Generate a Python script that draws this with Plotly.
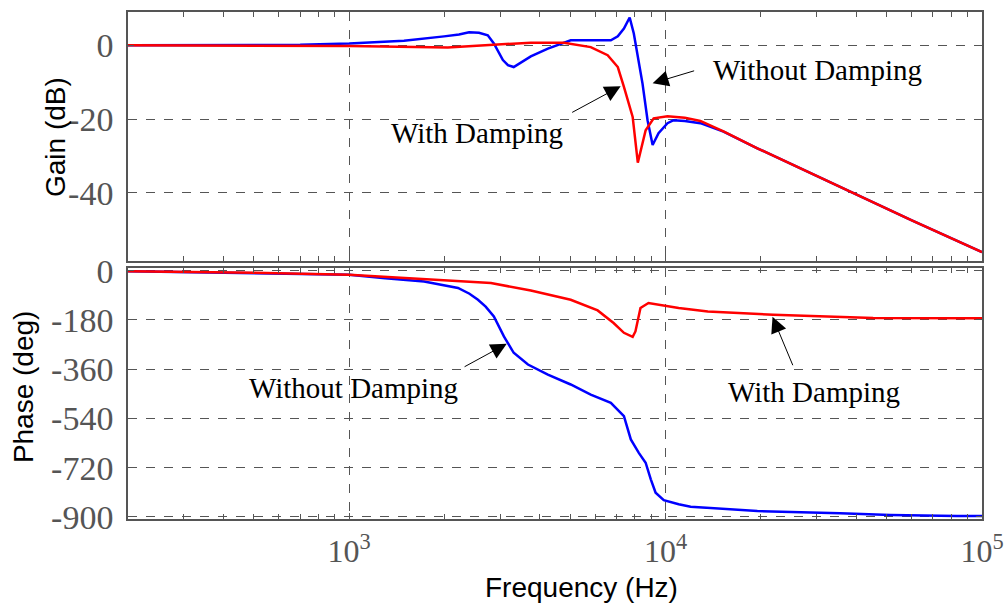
import numpy as np
import plotly.graph_objects as go

# gain (dB)
FREQ_GAIN_ND = [200, 400, 700, 1000, 1490, 1995, 2224, 2393, 2572, 2742, 2866, 3061, 3175, 3311,
                3750, 4246, 5013, 6714, 7063, 7385, 7700, 7935, 8455, 8770, 9100, 9500, 10140,
                10600, 11500, 12880, 14000, 15240, 19500, 28060, 39200, 60000, 100000]
GAIN_ND = [0, 0, 0.1, 0.45, 1.2, 2.4, 2.9, 3.5, 3.4, 2.7, 0.5, -4.0, -5.4, -5.9,
           -3.0, -0.9, 1.35, 1.35, 2.4, 4.5, 7.5, 3.2, -10.4, -20.3, -27.0, -23.8, -21.1,
           -20.3, -20.5, -21.1, -22.2, -23.4, -27.9, -34.2, -40.0, -47.4, -56.0]

FREQ_GAIN_D = [200, 500, 1000, 2050, 2866, 3750, 4770, 5800, 6560, 7063, 7385, 7870, 8170,
               8650, 9170, 10140, 11500, 12880, 14000, 15240, 19500, 28060, 39200, 60000, 100000]
GAIN_D = [0, -0.05, -0.2, -0.6, 0.2, 0.7, 0.7, -0.5, -2.7, -5.9, -11.3, -19.4, -31.8,
          -23.0, -19.8, -19.2, -19.6, -20.5, -21.9, -23.3, -27.9, -34.2, -40.0, -47.4, -56.0]

# phase (deg)
FREQ_PH_ND = [200, 500, 1000, 1300, 1725, 2208, 2400, 2553, 2700, 2866, 3083, 3311, 3673, 4246,
              5013, 5800, 6714, 7385, 7765, 8230, 8650, 8980, 9300, 9870, 11000, 12000, 19500,
              35600, 51300, 83400, 100000]
PH_ND = [-2, -8, -15, -27, -39, -63, -84, -106, -131, -167, -240, -300, -343, -380,
         -416, -453, -483, -532, -617, -666, -702, -763, -812, -839, -854, -863, -879,
         -887, -893, -897, -897]

FREQ_PH_D = [200, 500, 1000, 1725, 2805, 3750, 5013, 6100, 6850, 7385, 7870, 8030, 8330,
             8830, 9870, 11000, 13600, 21900, 45300, 100000]
PH_D = [-2, -7, -15, -30, -45, -72, -106, -145, -191, -227, -242, -222, -136,
        -118, -128, -136, -149, -161, -173, -174]

GAIN_TICKS = [0, -20, -40]
GAIN_TEXT = ["0", "-20", "-40"]
PHASE_TICKS = [0, -180, -360, -540, -720, -900]
PHASE_TEXT = ["0", "-180", "-360", "-540", "-720", "-900"]
FREQ_TICKS = [1e3, 1e4, 1e5]
FREQ_TEXT = ["10<sup>3</sup>", "10<sup>4</sup>", "10<sup>5</sup>"]

SERIF = "Liberation Serif"
SANS = "Liberation Sans"
AXC = "#555555"

fig = go.Figure()
fig.add_trace(go.Scatter(x=FREQ_GAIN_ND, y=GAIN_ND, mode="lines", line=dict(color="#0000ff", width=2.5),
                         xaxis="x", yaxis="y", showlegend=False))
fig.add_trace(go.Scatter(x=FREQ_GAIN_D, y=GAIN_D, mode="lines", line=dict(color="#ff0000", width=2.5),
                         xaxis="x", yaxis="y", showlegend=False))
fig.add_trace(go.Scatter(x=FREQ_PH_ND, y=PH_ND, mode="lines", line=dict(color="#0000ff", width=2.5),
                         xaxis="x2", yaxis="y2", showlegend=False))
fig.add_trace(go.Scatter(x=FREQ_PH_D, y=PH_D, mode="lines", line=dict(color="#ff0000", width=2.5),
                         xaxis="x2", yaxis="y2", showlegend=False))

xcommon = dict(type="log", range=[np.log10(200), 5], tickvals=FREQ_TICKS, ticktext=FREQ_TEXT,
               ticks="inside", ticklen=6, tickcolor=AXC, showline=True, linecolor=AXC, linewidth=1.5,
               mirror="allticks", showgrid=True, gridcolor=AXC, griddash="dash", gridwidth=1,
               zeroline=False, automargin=False,
               minor=dict(ticks="inside", ticklen=5, tickcolor=AXC, dtick="D1", showgrid=False))
ycommon = dict(ticks="inside", ticklen=6, tickcolor=AXC, showline=True, linecolor=AXC, linewidth=1.5,
               mirror="allticks", showgrid=True, gridcolor=AXC, griddash="dash", gridwidth=1,
               zeroline=False, automargin=False, ticklabelstandoff=6,
               tickfont=dict(family=SERIF, size=34, color=AXC))

fig.update_layout(
    width=1006, height=613,
    margin=dict(l=128, r=24, t=12, b=94),
    plot_bgcolor="white", paper_bgcolor="white",
    xaxis=dict(xcommon, domain=[0, 1], anchor="y", showticklabels=False),
    yaxis=dict(ycommon, domain=[0.509, 1], range=[-58.4, 9], tickvals=GAIN_TICKS,
               ticktext=GAIN_TEXT, anchor="x"),
    xaxis2=dict(xcommon, domain=[0, 1], anchor="y2", ticklabelstandoff=3,
                tickfont=dict(family=SERIF, size=32, color=AXC)),
    yaxis2=dict(ycommon, domain=[0, 0.495], range=[-908, 10], tickvals=PHASE_TICKS,
                ticktext=PHASE_TEXT, anchor="x2"),
)

ann = [
    # axis titles
    dict(text="Gain (dB)", xref="paper", yref="paper", x=-0.0843, y=0.7535, textangle=-90,
         font=dict(family=SANS, size=28, color="black")),
    dict(text="Phase (deg)", xref="paper", yref="paper", x=-0.123, y=0.262, textangle=-90,
         font=dict(family=SANS, size=28, color="black")),
    dict(text="Frequency (Hz)", xref="paper", yref="paper", x=0.5316, y=-0.136,
         font=dict(family=SANS, size=28, color="black")),
    # gain panel labels
    dict(text="With Damping", xref="x", yref="y", x=3.404, y=-23.8),
    dict(text="", xref="x", yref="y", axref="x", ayref="y", x=3.858, y=-11.1, ax=3.700, ay=-18.4),
    dict(text="Without Damping", xref="x", yref="y", x=4.479, y=-6.8),
    dict(text="", xref="x", yref="y", axref="x", ayref="y", x=3.959, y=-10.3, ax=4.095, ay=-6.8),
    # phase panel labels
    dict(text="Without Damping", xref="x2", yref="y2", x=3.013, y=-427),
    dict(text="", xref="x2", yref="y2", axref="x2", ayref="y2", x=3.498, y=-267, ax=3.360, ay=-354),
    dict(text="With Damping", xref="x2", yref="y2", x=4.470, y=-442),
    dict(text="", xref="x2", yref="y2", axref="x2", ayref="y2", x=4.338, y=-168, ax=4.404, ay=-351),
]
for a in ann:
    a["xanchor"] = "center"
    a["yanchor"] = "middle"
    if a["text"] == "":
        a.update(showarrow=True, arrowhead=2, arrowsize=3.2, arrowwidth=1, arrowcolor="black")
    else:
        a["showarrow"] = False
        if "font" not in a:
            a["font"] = dict(family=SERIF, size=29, color="black")
fig.update_layout(annotations=ann)

# page has a default 8px body margin, drop it so the figure sits at 0,0
fig.write_html("out.html", config={"displayModeBar": False},
               post_script="document.body.style.margin='0px';")
